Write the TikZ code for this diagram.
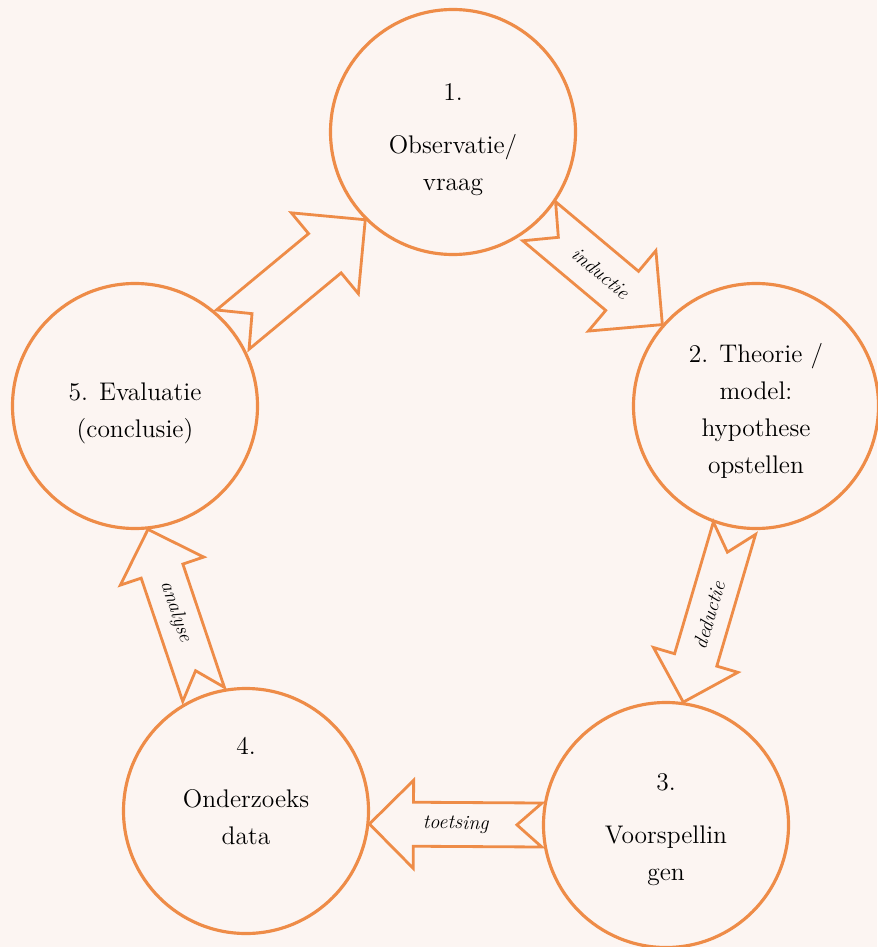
\documentclass[tikz,border=0pt]{standalone}
\usetikzlibrary{calc}

\definecolor{bgpink}{RGB}{252,245,242}
\definecolor{stepline}{RGB}{238,140,72}

\tikzset{
  stage/.style={circle, draw=stepline, line width=1.8pt, fill=bgpink, minimum size=4.9cm, inner sep=0pt},
  stagetext/.style={align=center, font=\fontsize{14.5}{21}\selectfont},
  arrowbox/.style={draw=stepline, line width=1.6pt, fill=bgpink, line join=miter},
  arrowlabel/.style={font=\fontsize{11.5}{13}\selectfont\itshape, inner sep=0pt}
}

% #1 tail, #2 tip, #3 half shaft width, #4 half head width, #5 label
\newcommand{\cyclearrow}[5]{%
  \coordinate (hb) at ($(#2)!#4!(#1)$);
  \draw[arrowbox] ($(#1)!#3!90:(#2)$) -- ($(hb)!#3!90:(#2)$) -- ($(hb)!#4!90:(#2)$) -- (#2)
    -- ($(hb)!#4!-90:(#2)$) -- ($(hb)!#3!-90:(#2)$) -- ($(#1)!#3!-90:(#2)$)
    -- ($(#1)!0.5cm!(#2)$) -- cycle;
  \path (#1) -- node[arrowlabel, sloped] {#5} (#2);
}

\begin{document}
\begin{tikzpicture}
\path[use as bounding box, fill=bgpink] (0,0) rectangle (17.54,-18.94);

\node[stage] (obs) at (9.06,-2.64) {};
\node[stage] (theo) at (15.12,-8.12) {};
\node[stage] (voor) at (13.32,-16.5) {};
\node[stage] (data) at (4.92,-16.22) {};
\node[stage] (eval) at (2.70,-8.12) {};

\node[stagetext] (obs-t) at ([yshift=-0.16cm]obs.center) {1.\\[0.32cm] Observatie/\\ vraag};
\node[stagetext] (theo-t) at ([yshift=-0.1cm]theo.center) {2. Theorie /\\ model:\\ hypothese\\ opstellen};
\node[stagetext] (voor-t) at ([yshift=-0.1cm]voor.center) {3.\\[0.32cm] Voorspellin\\ gen};
\node[stagetext] (data-t) at ([yshift=0.4cm]data.center) {4.\\[0.32cm] Onderzoeks\\ data};
\node[stagetext] (eval-t) at ([yshift=-0.14cm]eval.center) {5. Evaluatie\\ (conclusie)};

\coordinate (ind-s) at (obs.-46);
\coordinate (ind-e) at (theo.139);
\coordinate (ded-s) at (theo.-100);
\coordinate (ded-e) at (voor.82);
\coordinate (toe-s) at (voor.180);
\coordinate (toe-e) at (data.-6);
\coordinate (ana-s) at (data.110);
\coordinate (ana-e) at (eval.-84);
\coordinate (eva-s) at (eval.38);
\coordinate (eva-e) at (obs.-135);

\cyclearrow{ind-s}{ind-e}{0.51cm}{1.05cm}{inductie}
\cyclearrow{ded-s}{ded-e}{0.44cm}{0.88cm}{deductie}
\cyclearrow{toe-s}{toe-e}{0.44cm}{0.88cm}{toetsing}
\cyclearrow{ana-s}{ana-e}{0.44cm}{0.88cm}{analyse}
\cyclearrow{eva-s}{eva-e}{0.51cm}{1.05cm}{}

\end{tikzpicture}
\end{document}
